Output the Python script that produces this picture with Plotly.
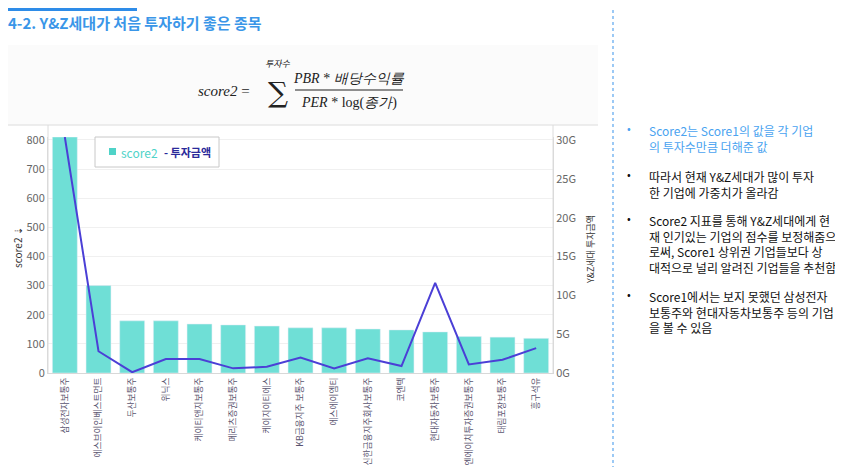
import plotly.graph_objects as go

# data
stocks = ["삼성전자보통주", "에스브이인베스트먼트", "두산보통주", "위닉스", "케이티앤지보통주",
          "메리츠증권보통주", "케이지이티에스", "KB금융지주 보통주", "에스에이엠티",
          "신한금융지주회사보통주", "코엔텍", "현대자동차보통주", "엔에이치투자증권보통주",
          "태림포장보통주", "흥구석유"]
score2 = [810, 300, 179, 179, 168, 165, 161, 155, 155, 151, 148, 141, 125, 123, 119]
invest_g = [30.4, 2.8, 0.1, 1.8, 1.8, 0.6, 0.8, 2.0, 0.6, 1.9, 0.9, 11.6, 1.1, 1.7, 3.2]
invest = [v * 1e9 for v in invest_g]
left_ticks = [0, 100, 200, 300, 400, 500, 600, 700, 800]
right_ticks = [0, 5e9, 10e9, 15e9, 20e9, 25e9, 30e9]
right_labels = ["0G", "5G", "10G", "15G", "20G", "25G", "30G"]

# page body has an 8px margin, so the figure is 16px smaller and
# every slide coordinate is shifted by 8px
OFF = 8
W, H = 843 - 2 * OFF, 475 - 2 * OFF
FONT = "Noto Sans CJK KR"


def px(x):
    return (x - OFF) / W


def py(y):
    return 1 - (y - OFF) / H


fig = go.Figure()
fig.add_trace(go.Bar(
    x=stocks, y=score2, name="score2",
    marker=dict(color="#6fdfd6"), width=0.74,
))
fig.add_trace(go.Scatter(
    x=stocks, y=invest, name="투자금액",
    yaxis="y2", mode="lines", line=dict(color="#4b3fd6", width=2),
))

fig.update_layout(
    width=W, height=H,
    margin=dict(l=0, r=0, t=0, b=0),
    paper_bgcolor="white", plot_bgcolor="white",
    font=dict(family=FONT, color="#555555", size=11),
    showlegend=False,
    xaxis=dict(
        domain=[px(48), px(553)], tickangle=-90, showgrid=False, automargin=False,
        showline=True, linecolor="#d8d8d8", ticks="",
        tickfont=dict(size=8.7, color="#5a5470"),
    ),
    yaxis=dict(
        range=[0, 810], tickvals=left_ticks, showgrid=True, gridcolor="#f0f0f0",
        zeroline=False, showline=True, linecolor="#d8d8d8", automargin=False,
        tickfont=dict(size=11, color="#666666"),
        domain=[py(373), py(137)],
    ),
    yaxis2=dict(
        range=[0, 30.4e9], tickvals=right_ticks, ticktext=right_labels,
        overlaying="y", side="right", showgrid=False, zeroline=False,
        showline=True, linecolor="#d8d8d8", automargin=False,
        tickfont=dict(size=11, color="#666666"),
    ),
)


def rect(x0, y0, x1, y1, fill, line=None, layer="above"):
    return dict(type="rect", xref="paper", yref="paper", x0=px(x0), x1=px(x1),
                y0=py(y1), y1=py(y0), fillcolor=fill, layer=layer,
                line=line or dict(width=0))


def hline(x0, x1, y, color, width=1, dash="solid"):
    return dict(type="line", xref="paper", yref="paper", x0=px(x0), x1=px(x1),
                y0=py(y), y1=py(y), line=dict(color=color, width=width, dash=dash))


def vline(x, y0, y1, color, width=1, dash="solid"):
    return dict(type="line", xref="paper", yref="paper", x0=px(x), x1=px(x),
                y0=py(y1), y1=py(y0), line=dict(color=color, width=width, dash=dash))


shapes = [
    rect(8, 8, 137, 11, "#2e8ce8"),                      # title accent bar
    rect(0, 45, 598, 125, "#fbfbfb", layer="below"),     # formula panel
    hline(0, 598, 125, "#dcdcdc"),
    vline(48, 125, 373, "#dcdcdc"),
    vline(553, 125, 373, "#dcdcdc"),
    hline(295, 403, 90, "#222222", 1.2),                 # fraction bar
    vline(613, 4, 475, "#5aa6ee", 1.2, "dot"),           # separator
    # legend box
    rect(95, 137, 219, 167, "white", dict(color="#c8c8c8", width=1)),
    rect(109, 148, 116, 155, "#4fd3c8"),
]
fig.update_layout(shapes=shapes)

ann = []


def note(text, x, y, size=12, color="#111111", xanchor="left", family=FONT, angle=0,
         yanchor="middle"):
    ann.append(dict(text=text, x=px(x), y=py(y), xref="paper", yref="paper",
                    xanchor=xanchor, yanchor=yanchor, showarrow=False, align="left",
                    textangle=angle, font=dict(size=size, color=color, family=family)))


note("<b>4-2. Y&Z세대가 처음 투자하기 좋은 종목</b>", 6, 23, size=15, color="#3a96e8")

# formula
serif = "Liberation Serif"
note("<i>score2</i> =", 252, 91, size=15, color="#222222", xanchor="right", family=serif)
note("∑", 278, 92, size=28, color="#222222", xanchor="center", family="DejaVu Serif")
note("<i>투자수</i>", 278, 64, size=9, color="#222222", xanchor="center")
note("<i>PBR</i> * <i>배당수익률</i>", 349, 78, size=14, color="#222222", xanchor="center", family=serif)
note("<i>PER</i> * log(<i>종가</i>)", 349, 103, size=14, color="#222222", xanchor="center", family=serif)

# legend text
note("score2", 119, 152, size=12, color="#4fd3c8")
note("<b>- 투자금액</b>", 162, 152, size=11, color="#2a2a9a")

# axis titles
note("score2 ⇣", 17, 248, size=10, color="#333333", xanchor="center", angle=-90)
note("Y&Z세대 투자금액", 590, 250, size=9, color="#333333", xanchor="center", angle=-90)

# right-hand bullets
bullets = [
    (128, "Score2는 Score1의 값을 각 기업<br>의 투자수만큼 더해준 값", "#4aa3f0"),
    (174, "따라서 현재 Y&Z세대가 많이 투자<br>한 기업에 가중치가 올라감", "#111111"),
    (218, "Score2 지표를 통해 Y&Z세대에게 현<br>재 인기있는 기업의 점수를 보정해줌으<br>로써, Score1 상위권 기업들보다 상<br>대적으로 널리 알려진 기업들을 추천함", "#111111"),
    (294, "Score1에서는 보지 못했던 삼성전자<br>보통주와 현대자동차보통주 등의 기업<br>을 볼 수 있음", "#111111"),
]
for top, text, color in bullets:
    note(text, 647, top - 8, size=12, color=color, yanchor="top")
    note("•", 629, top, size=11, color=color, xanchor="center")

fig.update_layout(annotations=ann)

fig.write_html("out.html")
